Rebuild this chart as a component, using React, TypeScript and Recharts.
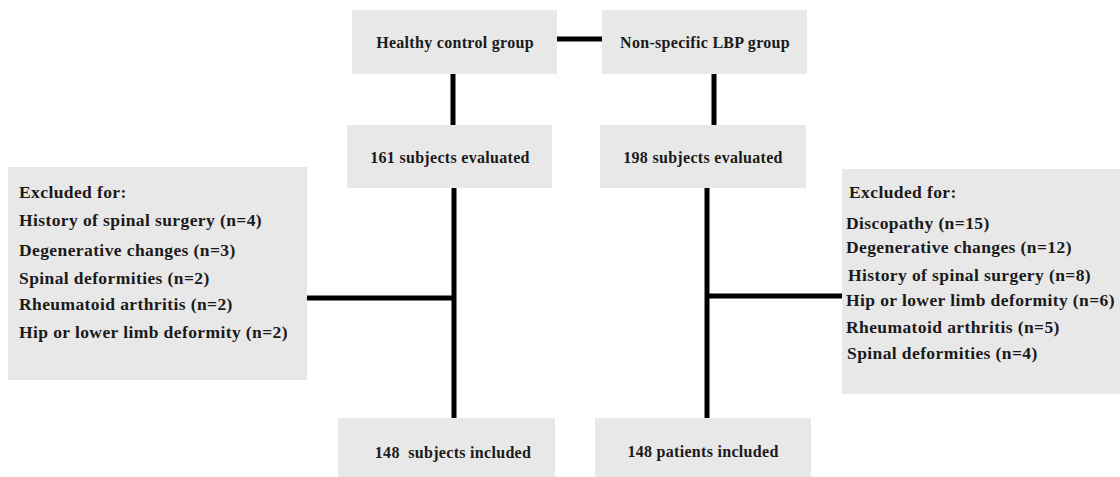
import React from "react";
import {
  ComposedChart,
  XAxis,
  YAxis,
  Scatter,
  ReferenceArea,
  ReferenceLine,
} from "recharts";

// flow diagram laid out on a 1120 x 477 grid (data units)
const boxes = [
  { id: "hc", x1: 352, x2: 557, y1: 10, y2: 74 },
  { id: "lbp", x1: 602, x2: 807, y1: 10, y2: 74 },
  { id: "hcEval", x1: 347, x2: 552, y1: 125, y2: 188 },
  { id: "lbpEval", x1: 600, x2: 806, y1: 125, y2: 188 },
  { id: "hcExcl", x1: 8, x2: 307, y1: 167, y2: 380 },
  { id: "lbpExcl", x1: 842, x2: 1120, y1: 169, y2: 394 },
  { id: "hcIncl", x1: 338, x2: 555, y1: 418, y2: 477 },
  { id: "lbpIncl", x1: 595, x2: 811, y1: 418, y2: 477 },
];

const connectors = [
  { from: { x: 557, y: 39 }, to: { x: 602, y: 39 } },
  { from: { x: 453, y: 74 }, to: { x: 453, y: 125 } },
  { from: { x: 714, y: 74 }, to: { x: 714, y: 125 } },
  { from: { x: 454, y: 188 }, to: { x: 454, y: 418 } },
  { from: { x: 307, y: 298 }, to: { x: 454, y: 298 } },
  { from: { x: 707, y: 188 }, to: { x: 707, y: 418 } },
  { from: { x: 707, y: 296 }, to: { x: 842, y: 296 } },
];

const titles = [
  { x: 455, y: 42, text: "Healthy control group" },
  { x: 705, y: 42, text: "Non-specific LBP group" },
  { x: 450, y: 157, text: "161 subjects evaluated" },
  { x: 703, y: 157, text: "198 subjects evaluated" },
  { x: 453, y: 452, text: "148  subjects included" },
  { x: 703, y: 451, text: "148 patients included" },
];

const leftExcluded = [
  { x: 19, y: 192, text: "Excluded for:" },
  { x: 19, y: 220, text: "History of spinal surgery (n=4)" },
  { x: 19, y: 250, text: "Degenerative changes (n=3)" },
  { x: 19, y: 278, text: "Spinal deformities (n=2)" },
  { x: 19, y: 304, text: "Rheumatoid arthritis (n=2)" },
  { x: 19, y: 332, text: "Hip or lower limb deformity (n=2)" },
];

const rightExcluded = [
  { x: 849, y: 192, text: "Excluded for:" },
  { x: 846, y: 223, text: "Discopathy (n=15)" },
  { x: 846, y: 247, text: "Degenerative changes (n=12)" },
  { x: 848, y: 275, text: "History of spinal surgery (n=8)" },
  { x: 846, y: 300, text: "Hip or lower limb deformity (n=6)" },
  { x: 846, y: 327, text: "Rheumatoid arthritis (n=5)" },
  { x: 847, y: 353, text: "Spinal deformities (n=4)" },
];

const FONT = "'Liberation Serif', 'DejaVu Serif', serif";

const makeText =
  (anchor: "start" | "middle", size: number, spacing: number) =>
  (props: any) => {
    const { cx, cy, payload } = props;
    return (
      <text
        x={cx}
        y={cy}
        textAnchor={anchor}
        dominantBaseline="central"
        fontFamily={FONT}
        fontSize={size}
        fontWeight="bold"
        letterSpacing={spacing}
        fill="#1a1a1a"
        style={{ whiteSpace: "pre" }}
      >
        {payload.text}
      </text>
    );
  };

export default function App() {
  return (
    <div style={{ position: "absolute", left: 0, top: 0, background: "#fff" }}>
      <ComposedChart
        width={1120}
        height={477}
        margin={{ top: 0, right: 0, bottom: 0, left: 0 }}
      >
        <XAxis type="number" dataKey="x" domain={[0, 1120]} hide />
        <YAxis type="number" dataKey="y" domain={[0, 477]} reversed hide />
        {boxes.map((b) => (
          <ReferenceArea
            key={b.id}
            x1={b.x1}
            x2={b.x2}
            y1={b.y1}
            y2={b.y2}
            fill="#e8e8e8"
            fillOpacity={1}
            stroke="none"
            ifOverflow="visible"
          />
        ))}
        {connectors.map((c, i) => (
          <ReferenceLine
            key={i}
            segment={[c.from, c.to]}
            stroke="#000"
            strokeWidth={5}
            ifOverflow="visible"
          />
        ))}
        <Scatter
          data={titles}
          shape={makeText("middle", 16, 0.3)}
          isAnimationActive={false}
        />
        <Scatter
          data={leftExcluded}
          shape={makeText("start", 17.5, 0.4)}
          isAnimationActive={false}
        />
        <Scatter
          data={rightExcluded}
          shape={makeText("start", 17.5, 0.4)}
          isAnimationActive={false}
        />
      </ComposedChart>
    </div>
  );
}
